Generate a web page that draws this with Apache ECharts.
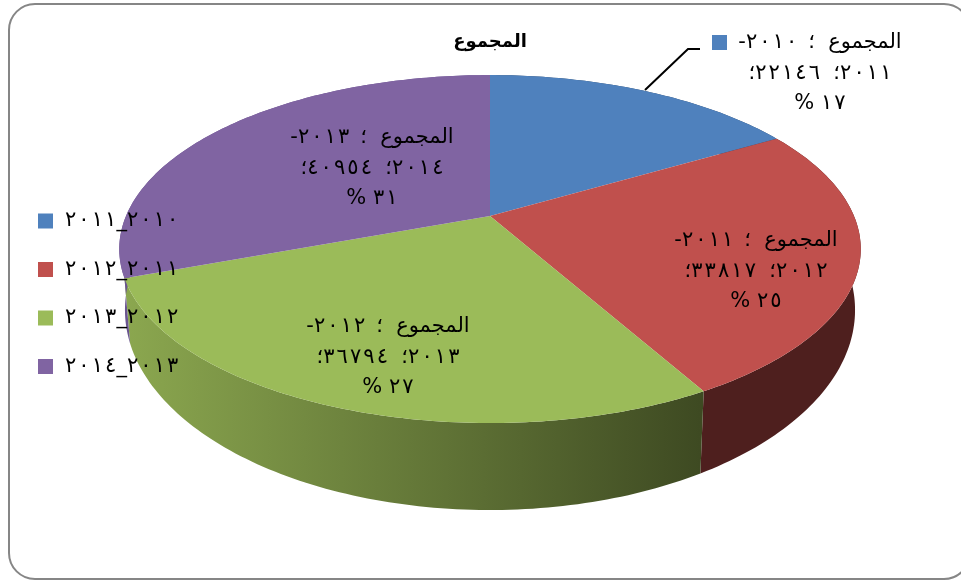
<!DOCTYPE html>
<html>
<head>
<meta charset="utf-8">
<style>
  html, body { margin: 0; padding: 0; background: #fff; }
  #chart { width: 961px; height: 580px; }
</style>
<script src="https://cdn.jsdelivr.net/npm/echarts@6/dist/echarts.min.js"></script>
</head>
<body>
<div id="chart"></div>
<script>
const categories = ["2010-2011", "2011-2012", "2012-2013", "2013-2014"];
const totals = [22146, 33817, 36794, 40954];
const percents = [17, 25, 27, 31];
const seriesName = "المجموع";

const colors = ["#4f81bd", "#c0504d", "#9bbb59", "#8064a2"];
const wallStops = [
  ["#2c4768", "#2c4768"],
  ["#4e1f1e", "#4e1f1e"],
  ["#8ba74f", "#3e4a22"],
  ["#6a5590", "#6a5590"],
];
// where each data label sits: centre x, first line y
const labelPos = [
  [820, 43],
  [756, 241],
  [388, 327],
  [372, 138],
];
const swatchPos = [
  [712, 35],
  [648, 233],
  [280, 319],
  [264, 130],
];

// perspective of the disc, top face and bottom face
const PERSP = 0.19;
const topFace = { cx: 490, cy: 216, rx: 364, ry: 167.7 };
const bottomFace = { cx: 490, cy: 272, rx: 358.4, ry: 192.8 };

// arabic-indic digits, held left to right with a hair space between them
const toArabic = (s) =>
  "\u202d" + String(s).replace(/\d/g, (d) => "٠١٢٣٤٥٦٧٨٩"[d]).split("").join("\u200a") + "\u202c";
// whole line runs right to left
const rtl = (s) => "\u202b" + s + "\u202c";
const RLM = "\u200f";

function project(face, deg) {
  const t = (deg * Math.PI) / 180;
  const u = Math.sin(t);
  const v = Math.cos(t);
  const w = 1 + PERSP * v;
  return [face.cx + (face.rx * u) / w, face.cy - (face.ry * v) / w];
}

function arc(face, from, to) {
  const pts = [];
  const steps = Math.max(2, Math.ceil(to - from));
  for (let i = 0; i <= steps; i++) {
    pts.push(project(face, from + ((to - from) * i) / steps));
  }
  return pts;
}

const sum = totals.reduce((a, b) => a + b, 0);
const startAngles = [];
totals.reduce((acc, v, i) => {
  startAngles[i] = acc;
  return acc + (v / sum) * 360;
}, 0);

function labelLines(i) {
  const [a, b] = categories[i].split("-");
  return [
    rtl(seriesName + "  ؛ \u2009" + toArabic(a) + "-"),
    rtl(toArabic(b) + "؛  " + toArabic(totals[i]) + "؛"),
    rtl(toArabic(percents[i]) + " %"),
  ];
}

function renderSlice(i) {
  const from = startAngles[i];
  const to = from + (totals[i] / sum) * 360;
  const topArc = arc(topFace, from, to);
  const bottomArc = arc(bottomFace, from, to);
  const children = [
    {
      type: "polygon",
      z2: 1,
      shape: { points: topArc.concat(bottomArc.reverse()) },
      style: {
        fill: new echarts.graphic.LinearGradient(
          125, 0, 700, 0,
          [
            { offset: 0, color: wallStops[i][0] },
            { offset: 1, color: wallStops[i][1] },
          ],
          true
        ),
      },
    },
    {
      type: "polygon",
      z2: 10,
      shape: { points: [[topFace.cx, topFace.cy]].concat(topArc) },
      style: { fill: colors[i] },
    },
    {
      type: "rect",
      z2: 15,
      shape: { x: swatchPos[i][0], y: swatchPos[i][1], width: 15, height: 15 },
      style: { fill: colors[i] },
    },
  ];
  labelLines(i).forEach((line, n) => {
    children.push({
      type: "text",
      z2: 20,
      style: {
        x: labelPos[i][0],
        y: labelPos[i][1] + n * 30.5,
        text: line,
        align: "center",
        verticalAlign: "middle",
        fill: "#000",
        font: '21px "DejaVu Sans"',
      },
    });
  });
  return { type: "group", children };
}

const chart = echarts.init(document.getElementById("chart"));
chart.setOption({
  animation: false,
  backgroundColor: "#fff",
  title: {
    text: seriesName,
    left: 485,
    top: 28,
    textAlign: "center",
    textStyle: { fontFamily: "DejaVu Sans", fontSize: 18, fontWeight: "bold", color: "#000" },
  },
  legend: {
    orient: "vertical",
    left: 38,
    top: 210.5,
    padding: 0,
    icon: "rect",
    itemWidth: 15,
    itemHeight: 15,
    itemGap: 27.5,
    selectedMode: false,
    data: categories.map((c) => ({ name: c })),
    formatter: (name) => rtl(name.split("-").map(toArabic).join("_" + RLM)),
    textStyle: { fontFamily: "DejaVu Sans", fontSize: 21, lineHeight: 15, color: "#000", padding: [0, 0, 0, 7] },
  },
  graphic: [
    {
      type: "rect",
      z: 0,
      shape: { x: 9, y: 4, width: 961, height: 575, r: 26 },
      style: { fill: "none", stroke: "#868686", lineWidth: 2 },
    },
    {
      type: "polyline",
      z: 5,
      shape: { points: [[645, 90], [688, 49], [700, 49]] },
      style: { fill: "none", stroke: "#000", lineWidth: 2 },
    },
  ],
  series: categories.map((c, i) => ({
    type: "custom",
    name: c,
    coordinateSystem: "none",
    itemStyle: { color: colors[i] },
    silent: true,
    data: [totals[i]],
    renderItem: () => renderSlice(i),
  })),
});
</script>
</body>
</html>
